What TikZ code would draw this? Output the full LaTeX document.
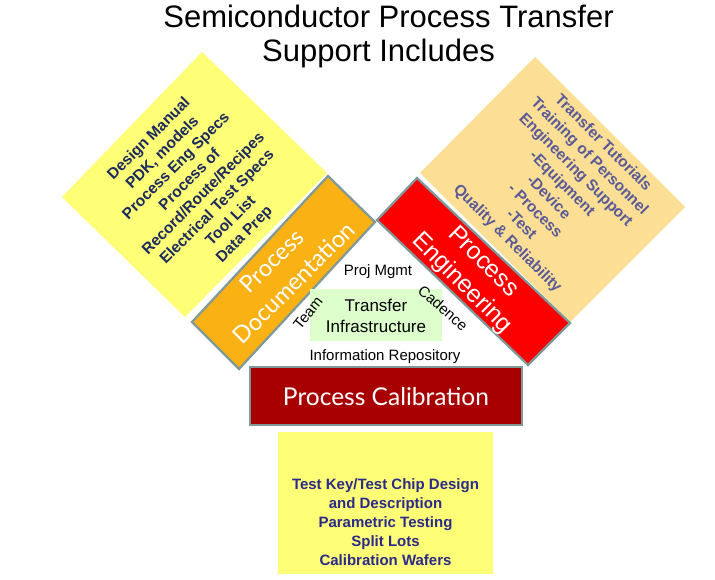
\documentclass[tikz,border=0pt]{standalone}
\usepackage{fontspec}
\setmainfont{Liberation Sans}
\newfontfamily\gill{Lato}
\definecolor{ylw}{HTML}{FFFF77}
\definecolor{wheat}{HTML}{FCDF94}
\definecolor{orng}{HTML}{FAB114}
\definecolor{redb}{HTML}{FC0000}
\definecolor{dred}{HTML}{A80000}
\definecolor{grn}{HTML}{DDFFCC}
\definecolor{edge}{HTML}{7F9999}
\definecolor{navy}{HTML}{1C2A5E}
\definecolor{slate}{HTML}{5A5A98}
\definecolor{bnavy}{HTML}{2A2A8A}
\begin{document}
\begin{tikzpicture}[x=1pt,y=-1pt,
  bar/.style={draw=edge,line width=2.2pt,line join=miter},
  listtxt/.style={align=center,font=\fontsize{15.5}{19.3}\selectfont\bfseries,inner sep=0pt},
  bartxt/.style={align=center,text=white,inner sep=0pt},
  lbl/.style={font=\fontsize{15}{18}\selectfont,inner sep=0pt}]
\useasboundingbox (0,0) rectangle (715,580);
\fill[white] (0,0) rectangle (715,580);
% shapes
\fill[ylw] (202,52) -- (327,173) -- (185,317) -- (62,197) -- cycle;
\fill[wheat] (535,57) -- (685,207) -- (570,322) -- (420,173) -- cycle;
\fill[orng] (328,176) -- (375,222) -- (239,369) -- (192,322) -- cycle;
\draw[bar] (328,176) -- (375,222) -- (239,369) -- (192,322) -- cycle;
\fill[redb] (417,178) -- (570,323) -- (528,365) -- (377,220) -- cycle;
\draw[bar] (417,178) -- (570,323) -- (528,365) -- (377,220) -- cycle;
\fill[grn] (310,289) rectangle (442,341);
\fill[dred] (250,367) rectangle (522,425);
\draw[bar] (250,367) rectangle (522,425);
\fill[ylw] (278,432) rectangle (493,574);
% title
\node[anchor=base,font=\fontsize{31}{34}\selectfont,inner sep=0pt] (t1) at (388.5,28) {Semiconductor Process Transfer};
\node[anchor=base,font=\fontsize{31}{34}\selectfont,inner sep=0pt] (t2) at (378.5,62) {Support Includes};
% lists
\node[listtxt,text=navy,rotate=45] (llist) at (197,187) {Design Manual\\PDK, models\\Process Eng Specs\\Process of\\Record/Route/Recipes\\Electrical Test Specs\\Tool List\\Data Prep};
\node[listtxt,text=slate,rotate=-45] (rlist) at (555,191) {Transfer Tutorials\\Training of Personnel\\Engineering Support\\-Equipment\\-Device\\- Process\\-Test\\Quality \& Reliability};
\node[listtxt,text=bnavy,font=\fontsize{15}{19}\selectfont\bfseries] (blist) at (385.5,522) {Test Key/Test Chip Design\\and Description\\Parametric Testing\\Split Lots\\Calibration Wafers};
% bar texts
\node[bartxt,rotate=45,font=\gill\fontsize{23.5}{31}\selectfont] (docu) at (283,272) {Process\\Documentation};
\node[bartxt,rotate=-45,font=\fontsize{24.5}{30}\selectfont] (engi) at (472,273) {Process\\Engineering};
\node[bartxt,font=\gill\fontsize{24.5}{28}\selectfont] (cali) at (386,397) {Process Calibration};
% center labels
\node[lbl] (pm) at (378,272) {Proj Mgmt};
\node[align=center,inner sep=0pt,font=\fontsize{17}{21}\selectfont] (ti) at (376,316) {Transfer\\Infrastructure};
\node[lbl] (ir) at (385,357) {Information Repository};
\node[lbl,rotate=51] (team) at (308,313) {Team};
\node[lbl,rotate=-41] (cad) at (443,308) {Cadence};
\end{tikzpicture}
\end{document}
